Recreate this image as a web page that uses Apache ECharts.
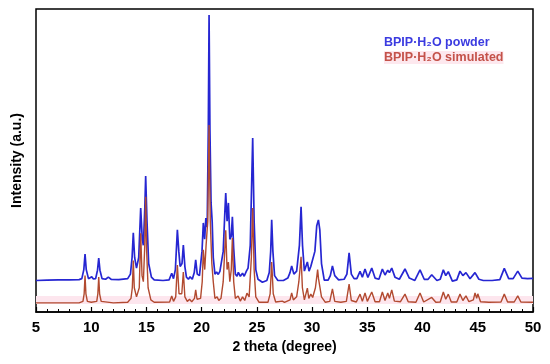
<!DOCTYPE html>
<html>
<head>
<meta charset="utf-8">
<script src="https://cdn.jsdelivr.net/npm/echarts@6/dist/echarts.min.js"></script>
<style>html,body{margin:0;padding:0;background:#fff}#c{width:550px;height:364px}</style>
</head>
<body>
<div id="c"></div>
<script>
var xTicks = [5, 10, 15, 20, 25, 30, 35, 40, 45, 50];
var seriesNames = ['BPIP\u00B7H\u2082O powder', 'BPIP\u00B7H\u2082O simulated'];

var powder = [
[5.0,10.4],[6.0,10.5],[7.0,10.6],[8.0,10.6],[8.9,10.7],
[9.15,11.0],[9.33,14.0],[9.44,19.1],[9.55,14.0],[9.75,11.0],
[9.9,10.8],[10.05,11.6],[10.2,10.9],
[10.4,11.0],[10.57,13.8],[10.68,17.8],[10.79,13.8],[10.98,11.0],
[11.3,10.8],[11.55,11.5],[11.8,10.8],[12.5,10.7],[13.3,11.0],
[13.55,12.5],[13.7,18],[13.81,26.1],[13.93,18],[14.1,14.5],
[14.3,18],[14.48,34.3],[14.62,24],[14.72,22],
[14.85,34],[14.93,44.9],[15.05,30],[15.2,16],[15.45,11.5],[15.7,10.6],
[16.5,10.4],[17.05,10.6],[17.29,12.8],[17.45,11.0],
[17.62,14],[17.8,27.1],[17.93,20],[18.05,15],
[18.22,16],[18.34,22.1],[18.48,15],[18.62,11.5],[18.8,10.8],[18.95,11.6],[19.15,10.8],
[19.33,13],[19.46,17.2],[19.6,12.5],[19.8,12],
[20.03,20],[20.15,29.4],[20.27,24],[20.38,31.0],[20.5,28],[20.6,60],
[20.67,98.0],[20.75,60],[20.85,36],[20.95,30],[21.05,18],[21.2,12.5],[21.35,13.2],[21.5,12.4],[21.65,13.4],[21.8,13.0],[21.95,20],
[22.1,33],[22.18,39.3],[22.3,30],[22.42,36.0],[22.55,24],[22.68,25],[22.78,31.4],[22.9,21],[23.05,12.5],[23.2,11.8],[23.32,13.1],[23.5,11.8],[23.7,12.8],[23.85,11.8],[24.05,13.5],[24.2,14.5],[24.4,22],
[24.62,57.4],[24.75,30],[24.9,14],[25.1,10.8],[25.5,9.8],[25.9,10.4],
[26.12,13],[26.25,20],[26.34,30.4],[26.45,20],[26.6,12],[26.9,10.4],[27.4,10.4],[27.8,11.2],
[28.0,13],[28.15,15.2],[28.35,12.5],[28.6,13.5],[28.85,22],
[29.0,34.7],[29.13,22],[29.3,13.5],[29.57,16.5],[29.72,13.5],[29.88,15.0],[30.05,14.5],[30.25,20],
[30.42,28.5],[30.57,30.4],[30.7,27],[30.85,16],[31.1,10.5],[31.45,10.5],
[31.65,12],[31.84,15.2],[32.05,12],[32.4,10.6],[32.9,10.8],
[33.15,12.5],[33.35,19.5],[33.55,12.5],[33.8,11.0],[34.05,11.0],
[34.34,13.4],[34.55,11.5],[34.79,14.2],[35.05,11.4],[35.40,14.5],[35.7,11.2],[36.05,10.8],[36.36,14.2],[36.6,12.2],[36.85,13.8],[37.0,13.0],[37.21,14.5],[37.5,11.5],[37.9,10.8],[38.41,14.2],[38.8,11.2],[39.3,10.4],[39.77,13.9],[40.15,10.8],[40.5,10.8],[40.83,12.3],[41.3,10.4],[41.6,10.8],[41.88,13.9],[42.1,12.0],[42.33,13.3],[42.7,10.2],[43.1,10.6],[43.39,13.5],[43.65,12.0],[43.93,13.0],[44.3,11.0],[44.75,13.0],[45.1,10.8],[45.5,10.4],[46.3,10.4],[47.0,10.7],[47.4,14.4],[47.8,11.0],[48.2,11.0],[48.62,13.5],[49.0,11.2],[49.5,11.0],[50.0,11.1]
];

var simulated = [
[5,3.0],[8.9,3.0],
[9.25,3.5],[9.36,6],[9.44,12.0],[9.52,6],[9.65,3.5],[10.0,3.2],
[10.5,3.5],[10.6,6],[10.68,11.5],[10.76,6],[10.9,3.5],[12,3.0],[13.3,3.2],
[13.6,4.5],[13.72,8],[13.81,17.0],[13.9,8],[14.1,5],
[14.35,8],[14.48,26],[14.6,12],[14.72,10],
[14.85,22],[14.93,38],[15.02,20],[15.15,8],[15.4,4],[15.7,3.2],[17.1,3.3],
[17.29,5.3],[17.45,3.5],[17.65,5],[17.8,15.5],[17.95,6],[18.2,6],[18.34,13.2],[18.48,5],[18.7,3.5],[18.9,4.2],[19.1,3.4],[19.35,4.5],[19.46,7.3],[19.58,4.2],[19.9,4.5],[20.05,10],[20.15,20.5],[20.28,14],[20.4,22],[20.55,30],[20.67,61.7],[20.78,30],[20.92,16],[21.05,10],[21.2,4.5],[21.4,5.0],[21.55,3.8],[21.75,4.5],[21.95,10],[22.18,27],[22.3,14],[22.42,16.5],[22.55,10],[22.68,14],[22.78,24.4],[22.9,10],[23.05,4.5],[23.3,5.3],[23.5,3.6],[23.7,5.0],[23.9,3.8],[24.1,6.2],[24.3,5],[24.5,18],[24.62,34.3],[24.75,14],[24.9,5],[25.2,3.2],[26.0,3.2],[26.2,6],[26.34,16.5],[26.48,6],[26.7,3.3],[27.3,3.6],[27.5,3.2],[28.0,4],[28.15,6.3],[28.3,4],[28.6,5],[28.8,10],[29.0,18.2],[29.12,8],[29.3,4],[29.57,7.9],[29.7,4.5],[29.88,5.9],[30.05,4.8],[30.3,8],[30.5,14],[30.58,11],[30.68,11.5],[30.85,5],[31.2,3.2],[31.6,3.5],[31.84,7.6],[32.05,3.5],[32.6,3.2],[33.1,3.5],[33.35,9.2],[33.55,3.8],[34.0,3.3],[34.34,5.9],[34.55,3.5],[34.79,6.3],[35.0,3.5],[35.40,6.6],[35.7,3.4],[36.1,3.4],[36.36,6.6],[36.6,3.8],[36.85,6.3],[37.0,4.5],[37.21,7.3],[37.45,3.6],[38.0,3.4],[38.41,5.9],[38.7,3.4],[39.4,3.2],[39.77,6.3],[40.1,3.3],[40.83,4.8],[41.2,3.2],[41.6,3.3],[41.88,6.6],[42.1,4.2],[42.33,5.9],[42.6,3.3],[43.1,3.3],[43.39,5.9],[43.65,3.8],[43.93,5.3],[44.2,3.4],[44.6,4],[44.75,6.3],[44.9,4.5],[45.0,6.0],[45.25,3.4],[46,3.2],[47.1,3.3],[47.4,5.9],[47.7,3.3],[48.3,3.3],[48.62,5.3],[48.9,3.3],[50,3.2]
];

var chart = echarts.init(document.getElementById('c'), null, {renderer: 'canvas'});
var font = 'Liberation Sans, Arial, sans-serif';
chart.setOption({
  animation: false,
  backgroundColor: '#fff',
  grid: {left: 36, right: 17, top: 9, bottom: 52, show: true, borderColor: '#000', borderWidth: 1.5, backgroundColor: 'transparent'},
  legend: {
    show: true, orient: 'vertical', left: 374, top: 31, itemWidth: 0, itemHeight: 0, itemGap: 2, icon: 'none',
    data: [
      {name: seriesNames[0], textStyle: {color: '#3b3be0'}},
      {name: seriesNames[1], textStyle: {color: '#c4524a', backgroundColor: '#fde8ee'}}
    ],
    textStyle: {fontFamily: font, fontWeight: 'bold', fontSize: 12.5}
  },
  xAxis: {
    type: 'value', min: 5, max: 50, interval: 5,
    name: '2 theta (degree)', nameLocation: 'middle', nameGap: 28,
    nameTextStyle: {fontFamily: font, fontWeight: 'bold', fontSize: 14, color: '#000'},
    axisLine: {show: true, lineStyle: {color: '#000', width: 1.5}},
    axisTick: {show: true, inside: true, length: 5, lineStyle: {color: '#000', width: 1.2}},
    minorTick: {show: true, splitNumber: 5, length: 3, lineStyle: {color: '#000', width: 1}},
    axisLabel: {fontFamily: font, fontWeight: 'bold', fontSize: 15, color: '#000', margin: 8,
      formatter: function (v) { return xTicks.indexOf(v) >= 0 ? String(v) : ''; }},
    splitLine: {show: false}
  },
  yAxis: {
    type: 'value', min: 0, max: 100,
    name: 'Intensity (a.u.)', nameLocation: 'middle', nameGap: 12, nameRotate: 90,
    nameTextStyle: {fontFamily: font, fontWeight: 'bold', fontSize: 14, color: '#000'},
    axisLine: {show: false}, axisTick: {show: false}, axisLabel: {show: false}, splitLine: {show: false}
  },
  series: [
    {
      name: seriesNames[0], type: 'line', data: powder, showSymbol: false, symbol: 'none',
      lineStyle: {color: '#2626d2', width: 1.7}, itemStyle: {color: '#2626d2'}, z: 2
    },
    {
      name: seriesNames[1], type: 'line', data: simulated, showSymbol: false, symbol: 'none',
      lineStyle: {color: '#b24a30', width: 1.4}, itemStyle: {color: '#b24a30'}, z: 3,
      markArea: {silent: true, itemStyle: {color: '#fde6ee'}, data: [[{xAxis: 5, yAxis: 2.6}, {xAxis: 50, yAxis: 5.3}]]}
    }
  ]
});
</script>
</body>
</html>
